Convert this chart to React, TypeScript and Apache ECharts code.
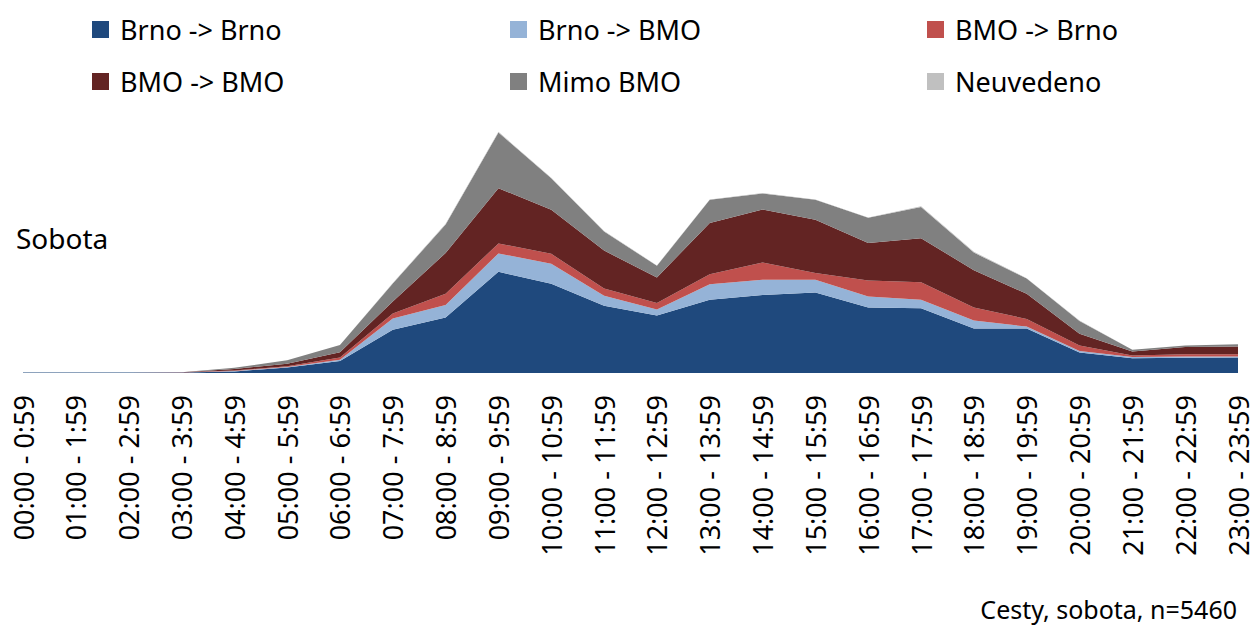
import React, { useEffect, useRef } from "react";
import * as echarts from "echarts";

const categories = [
  "00:00 - 0:59", "01:00 - 1:59", "02:00 - 2:59", "03:00 - 3:59", "04:00 - 4:59", "05:00 - 5:59",
  "06:00 - 6:59", "07:00 - 7:59", "08:00 - 8:59", "09:00 - 9:59", "10:00 - 10:59", "11:00 - 11:59",
  "12:00 - 12:59", "13:00 - 13:59", "14:00 - 14:59", "15:00 - 15:59", "16:00 - 16:59", "17:00 - 17:59",
  "18:00 - 18:59", "19:00 - 19:59", "20:00 - 20:59", "21:00 - 21:59", "22:00 - 22:59", "23:00 - 23:59",
];

const brnoBrno = [1, 1, 1, 1, 4, 14, 30, 108, 139, 253, 223, 168, 144, 183, 195, 201, 164, 162, 111, 111, 51, 37, 38, 39];
const brnoBmo = [0, 0, 0, 0, 1, 1, 3, 28, 31, 46, 50, 25, 15, 39, 38, 32, 27, 21, 20, 5, 4, 3, 3, 2];
const bmoBrno = [0, 0, 0, 1, 1, 2, 6, 13, 28, 25, 25, 18, 16, 25, 43, 17, 40, 44, 33, 19, 14, 4, 6, 6];
const bmoBmo = [0, 0, 0, 0, 4, 6, 13, 30, 102, 138, 110, 95, 64, 128, 133, 133, 94, 110, 93, 63, 29, 10, 18, 19];
const mimoBmo = [0, 0, 0, 0, 3, 9, 18, 45, 71, 139, 79, 48, 29, 58, 40, 50, 63, 78, 44, 38, 32, 4, 4, 6];
const neuvedeno = [0, 0, 0, 0, 0, 0, 0, 1, 2, 2, 1, 1, 1, 1, 1, 1, 1, 2, 2, 1, 1, 0, 0, 0];

const seriesNames = ["Brno -> Brno", "Brno -> BMO", "BMO -> Brno", "BMO -> BMO", "Mimo BMO", "Neuvedeno"];
const seriesData = [brnoBrno, brnoBmo, bmoBrno, bmoBmo, mimoBmo, neuvedeno];
const colors = ["#1F497D", "#95B3D7", "#C0504D", "#632423", "#808080", "#C0C0C0"];

const FONT = "'Noto Sans', 'Open Sans', sans-serif";

export default function App() {
  const ref = useRef<HTMLDivElement>(null);
  useEffect(() => {
    if (!ref.current) return;
    const chart = echarts.init(ref.current, null, { renderer: "svg" });
    const legendPos = [
      { left: 92, top: 16 },
      { left: 510, top: 16 },
      { left: 927, top: 16 },
      { left: 92, top: 68 },
      { left: 510, top: 68 },
      { left: 927, top: 68 },
    ];
    chart.setOption({
      animation: false,
      color: colors,
      legend: seriesNames.map((n, i) => ({
        data: [n],
        left: legendPos[i].left,
        top: legendPos[i].top,
        padding: 0,
        icon: "rect",
        itemWidth: 17,
        itemHeight: 17,
        textStyle: { fontFamily: FONT, fontSize: 27, color: "#000", padding: [0, 0, 0, 6] },
      })),
      grid: { left: 23, right: 17, top: 123, bottom: 258, containLabel: false },
      xAxis: {
        type: "category",
        data: categories,
        boundaryGap: false,
        axisLine: { show: false },
        axisTick: { show: false },
        axisLabel: {
          rotate: 90,
          interval: 0,
          margin: 22,
          fontFamily: FONT,
          fontSize: 27,
          color: "#000",
        },
      },
      yAxis: {
        type: "value",
        min: 0,
        max: 625,
        show: false,
        splitLine: { show: false },
      },
      graphic: [
        {
          type: "text",
          left: 16,
          top: 224,
          style: { text: "Sobota", fontFamily: FONT, fontSize: 28, fill: "#000" },
        },
        {
          type: "text",
          right: 18,
          top: 596,
          style: { text: "Cesty, sobota, n=5460", fontFamily: FONT, fontSize: 25, fill: "#000" },
        },
      ],
      series: seriesNames.map((n, i) => ({
        name: n,
        type: "line",
        stack: "total",
        data: seriesData[i],
        showSymbol: false,
        symbol: "none",
        lineStyle: { width: 0 },
        areaStyle: { color: colors[i], opacity: 1 },
        itemStyle: { color: colors[i] },
      })),
    });
    return () => chart.dispose();
  }, []);
  return <div ref={ref} style={{ width: 1255, height: 631, position: "absolute", left: 0, top: 0 }} />;
}
